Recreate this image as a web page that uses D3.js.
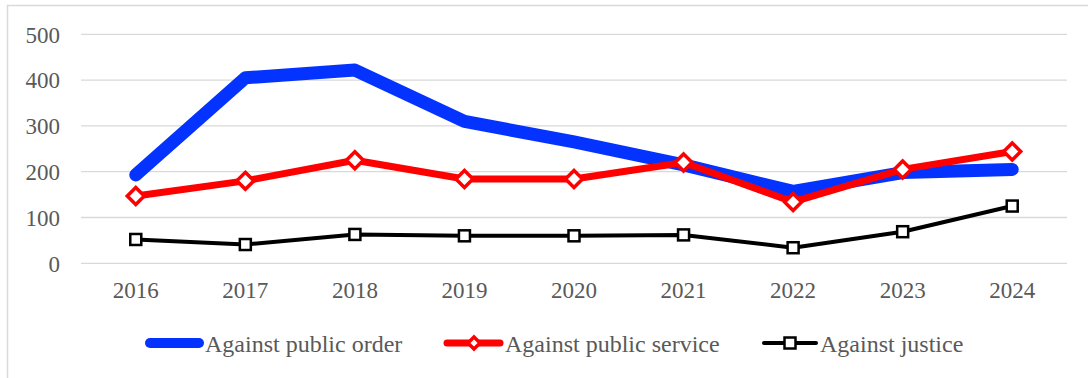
<!DOCTYPE html>
<html>
<head>
<meta charset="utf-8">
<script src="https://cdn.jsdelivr.net/npm/d3@7"></script>
<style>
  html, body { margin: 0; padding: 0; background: #fff; }
  svg { display: block; }
</style>
</head>
<body>
<svg id="chart" width="1088" height="378"></svg>
<script>
// Yearly counts per offence group
const years = ["2016", "2017", "2018", "2019", "2020", "2021", "2022", "2023", "2024"];
const publicOrder = [193, 405, 422, 310, 265, 215, 157, 198, 205];
const publicService = [147, 180, 225, 184, 184, 220, 134, 205, 244];
const justice = [52, 41, 63, 60, 60, 62, 34, 69, 125];
const yTicks = [0, 100, 200, 300, 400, 500];
const seriesNames = ["Against public order", "Against public service", "Against justice"];

const FONT = "Liberation Serif";
const TEXT_COLOR = "#595959";

const svg = d3.select("#chart");

// Outer frame (top and left edges visible)
svg.append("path")
  .attr("d", "M7.5,378 L7.5,5.5 L1088,5.5")
  .attr("fill", "none")
  .attr("stroke", "#d9d9d9")
  .attr("stroke-width", 1.5);

const x = d3.scaleBand().domain(years).range([81, 1067]).padding(0);
const cx = d => x(d) + x.bandwidth() / 2;
const y = d3.scaleLinear().domain([0, 500]).range([263.3, 34.3]);

// Horizontal gridlines
svg.append("g").selectAll("line").data(yTicks).join("line")
  .attr("x1", 81).attr("x2", 1067)
  .attr("y1", d => y(d)).attr("y2", d => y(d))
  .attr("stroke", "#d9d9d9").attr("stroke-width", 1.3);

// Y axis labels
const yAxis = d3.axisLeft(y).tickValues(yTicks).tickSize(0).tickPadding(0);
const gy = svg.append("g").attr("transform", "translate(60,0)").call(yAxis)
  .attr("font-family", FONT).attr("font-size", 23);
gy.select(".domain").remove();
gy.selectAll("text").attr("dy", "0.34em").attr("fill", TEXT_COLOR);

// X axis labels
const xAxis = d3.axisBottom(x).tickSize(0).tickPadding(0);
const gx = svg.append("g").attr("transform", "translate(0,281)").call(xAxis)
  .attr("font-family", FONT).attr("font-size", 23);
gx.select(".domain").remove();
gx.selectAll("text").attr("dy", "0.76em").attr("fill", TEXT_COLOR);

const line = d3.line().x((d, i) => cx(years[i])).y(d => y(d));

// Public order: heavy blue line
svg.append("path").datum(publicOrder)
  .attr("d", line).attr("fill", "none")
  .attr("stroke", "#0433ff").attr("stroke-width", 13)
  .attr("stroke-linejoin", "round").attr("stroke-linecap", "round");

// Public service: red line with diamond markers
svg.append("path").datum(publicService)
  .attr("d", line).attr("fill", "none")
  .attr("stroke", "#ff0000").attr("stroke-width", 7)
  .attr("stroke-linejoin", "round");

const diamond = (px, py, r) => `M${px},${py - r} L${px + r},${py} L${px},${py + r} L${px - r},${py} Z`;
svg.append("g").selectAll("path").data(publicService).join("path")
  .attr("d", (d, i) => diamond(cx(years[i]), y(d), 8.5))
  .attr("fill", "#fff").attr("stroke", "#ff0000").attr("stroke-width", 3.5)
  .attr("stroke-linejoin", "miter");

// Justice: black line with square markers
svg.append("path").datum(justice)
  .attr("d", line).attr("fill", "none")
  .attr("stroke", "#000").attr("stroke-width", 4)
  .attr("stroke-linejoin", "round");

svg.append("g").selectAll("rect").data(justice).join("rect")
  .attr("x", (d, i) => cx(years[i]) - 5.5).attr("y", d => y(d) - 5.5)
  .attr("width", 11).attr("height", 11)
  .attr("fill", "#fff").attr("stroke", "#000").attr("stroke-width", 2.5);

// Legend
const legendY = 343;
const legend = svg.append("g").attr("font-family", FONT).attr("font-size", 24);

legend.append("line").attr("x1", 150).attr("x2", 199)
  .attr("y1", legendY).attr("y2", legendY)
  .attr("stroke", "#0433ff").attr("stroke-width", 10).attr("stroke-linecap", "round");
legend.append("text").attr("x", 205).attr("y", legendY + 9)
  .attr("fill", TEXT_COLOR).text(seriesNames[0]);

legend.append("line").attr("x1", 447).attr("x2", 500)
  .attr("y1", legendY).attr("y2", legendY)
  .attr("stroke", "#ff0000").attr("stroke-width", 7).attr("stroke-linecap", "round");
legend.append("path").attr("d", diamond(474, legendY, 6))
  .attr("fill", "#fff").attr("stroke", "#ff0000").attr("stroke-width", 3.5);
legend.append("text").attr("x", 505).attr("y", legendY + 9)
  .attr("fill", TEXT_COLOR).text(seriesNames[1]);

legend.append("line").attr("x1", 764).attr("x2", 816)
  .attr("y1", legendY).attr("y2", legendY)
  .attr("stroke", "#000").attr("stroke-width", 4).attr("stroke-linecap", "round");
legend.append("rect").attr("x", 784.5).attr("y", legendY - 5.5)
  .attr("width", 11).attr("height", 11)
  .attr("fill", "#fff").attr("stroke", "#000").attr("stroke-width", 2.5);
legend.append("text").attr("x", 820).attr("y", legendY + 9)
  .attr("fill", TEXT_COLOR).text(seriesNames[2]);
</script>
</body>
</html>
